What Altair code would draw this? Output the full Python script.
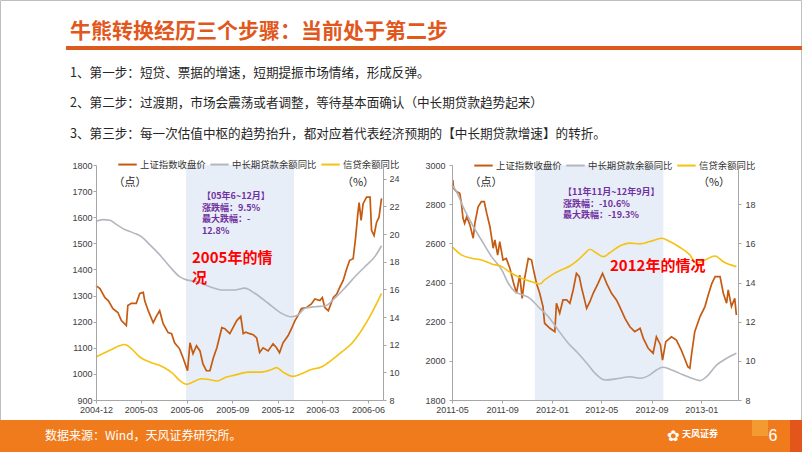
import altair as alt
import pandas as pd

# ---------------- data ----------------
SERIES = ["上证指数收盘价", "中长期贷款余额同比", "信贷余额同比"]
COLORS = ["#C55A11", "#B4B6BE", "#F5C211"]

# ---- 2005 panel ----
L_SSE_DATES = ["2004-12-01","2004-12-09","2004-12-19","2004-12-26","2005-01-04","2005-01-14","2005-01-21",
    "2005-01-31","2005-02-03","2005-02-10","2005-02-20","2005-02-27","2005-03-06","2005-03-09","2005-03-16",
    "2005-03-26","2005-04-02","2005-04-08","2005-04-15","2005-04-25","2005-05-02","2005-05-08","2005-05-18",
    "2005-05-25","2005-06-03","2005-06-08","2005-06-14","2005-06-21","2005-06-28","2005-07-04","2005-07-11",
    "2005-07-18","2005-07-25","2005-08-01","2005-08-11","2005-08-17","2005-08-27","2005-09-10","2005-09-18",
    "2005-09-23","2005-09-28","2005-10-06","2005-10-13","2005-10-20","2005-10-26","2005-11-02","2005-11-12",
    "2005-11-22","2005-11-29","2005-12-05","2005-12-12","2005-12-22","2005-12-29","2006-01-05","2006-01-11",
    "2006-01-18","2006-01-28","2006-02-07","2006-02-14","2006-02-24","2006-03-01","2006-03-06","2006-03-13",
    "2006-03-23","2006-03-30","2006-04-05","2006-04-12","2006-04-19","2006-04-25","2006-05-02","2006-05-07",
    "2006-05-11","2006-05-14","2006-05-18","2006-05-22","2006-05-29","2006-06-05","2006-06-08","2006-06-13",
    "2006-06-18","2006-06-23","2006-06-28"]
L_SSE_VALUES = [1338,1327,1292,1280,1250,1235,1204,1185,1262,1270,1270,1308,1312,1280,1242,1196,1223,1242,
    1192,1158,1154,1119,1096,1062,1012,1119,1077,1108,1088,1038,1012,1012,1062,1100,1177,1173,1154,1204,1220,
    1154,1160,1154,1150,1138,1082,1100,1088,1115,1100,1081,1119,1146,1173,1204,1223,1250,1254,1268,1287,1281,
    1292,1254,1242,1292,1306,1331,1358,1403,1435,1441,1523,1606,1656,1588,1652,1677,1677,1550,1530,1580,1600,1672]

L_MLT_DATES = ["2004-12-01","2004-12-15","2004-12-29","2005-01-11","2005-01-25","2005-02-14","2005-03-03",
    "2005-03-19","2005-04-08","2005-04-28","2005-05-18","2005-06-01","2005-06-21","2005-07-18","2005-08-13",
    "2005-09-06","2005-09-26","2005-10-16","2005-11-12","2005-12-09","2005-12-29","2006-01-11","2006-01-25",
    "2006-02-14","2006-03-06","2006-03-26","2006-04-15","2006-05-06","2006-05-26","2006-06-15","2006-06-28"]
L_MLT_VALUES = [20.93,21.05,21.0,20.7,20.38,20.09,19.8,19.24,18.51,17.66,16.93,16.69,16.57,16.2,15.96,
    15.96,16.09,15.72,15.0,14.27,14.02,14.15,14.63,14.75,14.8,15.36,16.09,16.93,17.66,18.39,19.16]

L_LOAN_DATES = ["2004-12-01","2004-12-29","2005-01-28","2005-02-10","2005-02-27","2005-03-19","2005-04-15",
    "2005-05-05","2005-05-18","2005-06-01","2005-06-14","2005-07-01","2005-07-18","2005-08-01","2005-08-20",
    "2005-09-06","2005-10-03","2005-10-30","2005-11-19","2005-11-29","2005-12-12","2006-01-01","2006-01-18",
    "2006-02-07","2006-02-27","2006-03-19","2006-04-09","2006-04-29","2006-05-19","2006-06-08","2006-06-28"]
L_LOAN_VALUES = [11.11,11.6,12.01,11.72,11.11,10.75,10.39,9.9,9.42,9.13,9.3,9.54,9.47,9.37,9.66,9.8,
    10.02,10.02,10.2,10.34,10.02,9.71,9.9,10.2,10.39,10.87,11.48,12.09,13.05,14.27,15.72]

L_SHADE = ["2005-05-31", "2006-01-03"]
L_X_DOMAIN = [(2004, 12, 1), (2006, 7, 1)]
L_X_TICKS = [(2004, 12), (2005, 3), (2005, 6), (2005, 9), (2005, 12), (2006, 3), (2006, 6)]
L_Y_LEFT = list(range(900, 1801, 100))
L_Y_RIGHT = list(range(8, 25, 2))
L_Y_RIGHT_DOMAIN = [8, 25]
L_NOTE = ["【05年6~12月】", "涨跌幅：9.5%", "最大跌幅：-", "12.8%"]
L_TAG = ["2005年的情", "况"]

# ---- 2012 panel ----
R_SSE_DATES = ["2011-05-03","2011-05-05","2011-05-12","2011-05-20","2011-05-24","2011-05-28","2011-06-01",
    "2011-06-06","2011-06-14","2011-06-22","2011-06-26","2011-07-04","2011-07-12","2011-07-19","2011-07-25",
    "2011-08-02","2011-08-10","2011-08-14","2011-08-21","2011-08-26","2011-09-03","2011-09-11","2011-09-20",
    "2011-09-28","2011-10-06","2011-10-14","2011-10-20","2011-10-26","2011-11-04","2011-11-12","2011-11-16",
    "2011-11-24","2011-12-02","2011-12-10","2011-12-14","2011-12-27","2012-01-08","2012-01-12","2012-01-20",
    "2012-01-28","2012-02-06","2012-02-14","2012-02-22","2012-03-01","2012-03-08","2012-03-13","2012-03-26",
    "2012-04-03","2012-04-11","2012-04-23","2012-05-04","2012-05-14","2012-05-26","2012-06-07","2012-06-15",
    "2012-06-28","2012-07-10","2012-07-22","2012-08-04","2012-08-12","2012-08-24","2012-09-05","2012-09-13",
    "2012-09-23","2012-09-28","2012-10-06","2012-10-20","2012-11-01","2012-11-13","2012-11-21","2012-11-29",
    "2012-12-04","2012-12-08","2012-12-16","2012-12-29","2013-01-10","2013-01-18","2013-01-27","2013-02-04",
    "2013-02-16","2013-02-24","2013-03-04","2013-03-08","2013-03-16","2013-03-24","2013-03-28"]
R_SSE_VALUES = [2923,2881,2864,2856,2805,2728,2702,2736,2694,2626,2702,2787,2813,2813,2754,2685,2575,2617,
    2540,2609,2515,2523,2472,2404,2345,2438,2319,2421,2523,2515,2472,2396,2345,2277,2192,2166,2149,2294,2243,
    2311,2311,2294,2362,2447,2430,2379,2268,2302,2345,2396,2447,2396,2345,2311,2277,2217,2174,2149,2166,2115,
    2064,2039,2123,2081,2004,2098,2123,2106,2055,2013,1970,1962,2030,2149,2226,2277,2336,2396,2430,2430,2345,
    2294,2362,2277,2319,2234]

R_MLT_DATES = ["2011-05-01","2011-05-12","2011-05-28","2011-06-18","2011-07-12","2011-08-06","2011-08-31",
    "2011-09-16","2011-10-02","2011-10-22","2011-11-08","2011-11-28","2011-12-23","2012-01-16","2012-02-10",
    "2012-03-05","2012-03-30","2012-04-16","2012-05-10","2012-06-15","2012-07-10","2012-08-04","2012-08-28",
    "2012-09-13","2012-09-29","2012-10-16","2012-11-09","2012-12-04","2012-12-29","2013-01-14","2013-02-08",
    "2013-03-04","2013-03-28"]
R_MLT_VALUES = [18.98,18.64,17.87,17.02,16.17,15.32,14.64,13.96,13.53,13.36,13.19,12.77,12.26,11.58,10.9,
    10.39,9.79,9.36,9.02,9.11,9.19,9.11,9.28,9.53,9.67,9.57,9.36,9.15,8.99,9.19,9.79,10.13,10.39]

R_LOAN_DATES = ["2011-05-01","2011-05-24","2011-06-18","2011-07-12","2011-08-06","2011-08-31","2011-09-24",
    "2011-10-18","2011-11-12","2011-12-02","2011-12-14","2011-12-31","2012-01-24","2012-02-14","2012-03-05",
    "2012-03-22","2012-04-03","2012-04-20","2012-05-06","2012-05-22","2012-06-15","2012-07-10","2012-08-04",
    "2012-08-28","2012-09-26","2012-10-16","2012-11-09","2012-12-04","2012-12-20","2013-01-10","2013-02-04",
    "2013-02-24","2013-03-28"]
R_LOAN_VALUES = [15.83,15.41,15.24,15.15,14.95,14.81,14.47,14.22,14.04,13.92,14.13,14.38,14.64,14.84,15.15,
    15.49,15.7,15.49,15.32,15.52,15.86,16.01,15.97,16.09,16.26,16.09,15.8,15.41,14.98,15.15,15.35,15.06,14.81]

R_SHADE = ["2011-11-20", "2012-09-30"]
R_X_DOMAIN = [(2011, 5, 1), (2013, 4, 1)]
R_X_TICKS = [(2011, 5), (2011, 9), (2012, 1), (2012, 5), (2012, 9), (2013, 1)]
R_Y_LEFT = list(range(1800, 3001, 200))
R_Y_RIGHT = list(range(8, 19, 2))
R_Y_RIGHT_DOMAIN = [8, 20]
R_NOTE = ["【11年11月~12年9月】", "涨跌幅：-10.6%", "最大跌幅：-19.3%"]
R_TAG = ["2012年的情况"]

TITLE = "牛熊转换经历三个步骤：当前处于第二步"
BULLETS = [
    "1、第一步：短贷、票据的增速，短期提振市场情绪，形成反弹。",
    "2、第二步：过渡期，市场会震荡或者调整，等待基本面确认（中长期贷款趋势起来）",
    "3、第三步：每一次估值中枢的趋势抬升，都对应着代表经济预期的【中长期贷款增速】的转折。",
]
SOURCE = "数据来源：Wind，天风证券研究所。"
PAGE = "6"

# ---------------- styling ----------------
CJK = "Noto Sans CJK SC"
NUM = "Liberation Sans"
AX_COLOR = "#A6A6A6"
LBL_COLOR = "#404040"
ONE = pd.DataFrame({"k": [0]})


def dt(y, m, d=1):
    return alt.DateTime(year=y, month=m, date=d, utc=True)


def txt(px, py, s, ox, oy, size, color, weight="normal", align="left", font=CJK):
    return alt.Chart(ONE).mark_text(
        align=align, baseline="middle", fontSize=size, color=color, fontWeight=weight, font=font
    ).encode(x=alt.value(px - ox), y=alt.value(py - oy), text=alt.value(s))


def box(x1, y1, x2, y2, ox, oy, **kw):
    return alt.Chart(ONE).mark_rect(**kw).encode(
        x=alt.value(x1 - ox), x2=alt.value(x2 - ox), y=alt.value(y1 - oy), y2=alt.value(y2 - oy)
    )


def yaxis(orient, values, pad):
    return alt.Axis(orient=orient, values=values, format="d", labelFontSize=9, labelFont=NUM,
                    labelColor=LBL_COLOR, domainColor=AX_COLOR, tickColor=AX_COLOR,
                    tickSize=3, labelPadding=pad, grid=False, title=None, zindex=1)


def panel(sse_d, sse_v, mlt_d, mlt_v, loan_d, loan_v, shade, xdom, xticks, yl, yr, yr_dom,
          W, H, legend_y, decor, lpad, rpad):
    df_sse = pd.DataFrame({"date": sse_d, "value": sse_v, "series": SERIES[0]})
    df_rate = pd.concat([
        pd.DataFrame({"date": mlt_d, "value": mlt_v, "series": SERIES[1]}),
        pd.DataFrame({"date": loan_d, "value": loan_v, "series": SERIES[2]}),
    ])
    df_shade = pd.DataFrame({"start": [shade[0]], "end": [shade[1]]})

    xscale = alt.Scale(type="utc", domain=[dt(*xdom[0]), dt(*xdom[1])], nice=False)
    xaxis = alt.Axis(values=[dt(y, m) for y, m in xticks], format="%Y-%m", labelAngle=0,
                     labelFontSize=9, labelFont=NUM, labelColor=LBL_COLOR, domainColor=AX_COLOR,
                     tickColor=AX_COLOR, tickSize=3, labelPadding=2, grid=False, title=None,
                     labelOverlap=False, labelFlush=False, zindex=1)
    color = alt.Color("series:N", scale=alt.Scale(domain=SERIES, range=COLORS),
                      legend=alt.Legend(orient="none", legendX=21, legendY=legend_y,
                                        direction="horizontal", columns=3, title=None,
                                        symbolType="stroke", symbolSize=340, symbolStrokeWidth=2,
                                        labelFontSize=9.4, labelFont=CJK, labelColor="#333333",
                                        labelOffset=2, columnPadding=0, padding=0, labelLimit=300))

    shade_l = alt.Chart(df_shade).mark_rect(color="#E8EEF7").encode(
        x=alt.X("start:T", scale=xscale, axis=xaxis), x2="end:T",
        y=alt.value(0), y2=alt.value(H))

    sse = alt.Chart(df_sse).mark_line(strokeWidth=1.7).encode(
        x=alt.X("date:T", scale=xscale, axis=xaxis),
        y=alt.Y("value:Q", scale=alt.Scale(domain=[yl[0], yl[-1]], nice=False, zero=False),
                axis=yaxis("left", yl, lpad)),
        color=color)

    rates = alt.Chart(df_rate).mark_line(strokeWidth=1.6, interpolate="monotone").encode(
        x=alt.X("date:T", scale=xscale, axis=xaxis),
        y=alt.Y("value:Q", scale=alt.Scale(domain=yr_dom, nice=False, zero=False),
                axis=yaxis("right", yr, rpad)),
        color=color, detail="series:N")

    return alt.layer(*decor[0], shade_l, sse, rates, *decor[1]).resolve_scale(
        y="independent").properties(width=W, height=H)


# ---------------- left panel (also carries the slide frame) ----------------
LW, LH, LOX, LOY = 287, 235, 96, 165
RW, RH, ROX, ROY = 286, 235, 452, 165

under_left = [
    box(0, 0, 802, 452, LOX, LOY, color="white"),
]
over_left = [
    box(0.5, 0.5, 801.5, 451.5, LOX, LOY, fillOpacity=0, stroke="#BFBFBF", strokeWidth=1),
    txt(70, 32, TITLE, LOX, LOY, 21, "#E2571C", weight="bold"),
    box(66, 46, 802, 50, LOX, LOY, color="#DC5A1E"),
    txt(70, 73, BULLETS[0], LOX, LOY, 12.6, "#262626"),
    txt(70, 103, BULLETS[1], LOX, LOY, 12.6, "#262626"),
    txt(70, 134, BULLETS[2], LOX, LOY, 12.6, "#262626"),
    box(0, 420, 802, 452, LOX, LOY, color="#EF7B1C"),
    box(752, 420, 768, 436, LOX, LOY, color="#F39A30"),
    box(790, 420, 802, 452, LOX, LOY, color="#E2561B"),
    txt(45, 436, SOURCE, LOX, LOY, 12, "white"),
    txt(667, 436, "✿", LOX, LOY, 15, "white", font="DejaVu Sans"),
    txt(682, 434, "天风证券", LOX, LOY, 9, "white", weight="bold"),
    txt(773, 436, PAGE, LOX, LOY, 16, "white", align="center", font=NUM),
    txt(130, 183, "（点）", LOX, LOY, 11, "#262626", align="center"),
    txt(358, 183, "（%）", LOX, LOY, 11, "#262626", align="center"),
] + [txt(202, 196 + 11.5 * i, s, LOX, LOY, 9, "#7030A0", weight="bold")
     for i, s in enumerate(L_NOTE)] + [
    txt(192, 258 + 19.5 * i, s, LOX, LOY, 15, "#FF0000", weight="bold") for i, s in enumerate(L_TAG)
]

left = panel(L_SSE_DATES, L_SSE_VALUES, L_MLT_DATES, L_MLT_VALUES, L_LOAN_DATES, L_LOAN_VALUES,
             L_SHADE, L_X_DOMAIN, L_X_TICKS, L_Y_LEFT, L_Y_RIGHT, L_Y_RIGHT_DOMAIN,
             LW, LH, -11, (under_left, over_left), 1, 3)

over_right = [
    txt(486, 183, "（点）", ROX, ROY, 11, "#262626", align="center"),
    txt(714, 183, "（%）", ROX, ROY, 11, "#262626", align="center"),
] + [txt(563, 192 + 11.5 * i, s, ROX, ROY, 9, "#7030A0", weight="bold")
     for i, s in enumerate(R_NOTE)] + [
    txt(610, 266, R_TAG[0], ROX, ROY, 15, "#FF0000", weight="bold")
]

right = panel(R_SSE_DATES, R_SSE_VALUES, R_MLT_DATES, R_MLT_VALUES, R_LOAN_DATES, R_LOAN_VALUES,
              R_SHADE, R_X_DOMAIN, R_X_TICKS, R_Y_LEFT, R_Y_RIGHT, R_Y_RIGHT_DOMAIN,
              RW, RH, -10, ([], over_right), 4, 4)

chart = alt.hconcat(left, right, spacing=ROX - LOX - LW, bounds="flush").resolve_scale(
    color="independent").resolve_legend(color="independent").properties(
    padding=0, background="white").configure_view(stroke=None)

chart.save("out.html", embed_options={"renderer": "svg", "actions": False})
